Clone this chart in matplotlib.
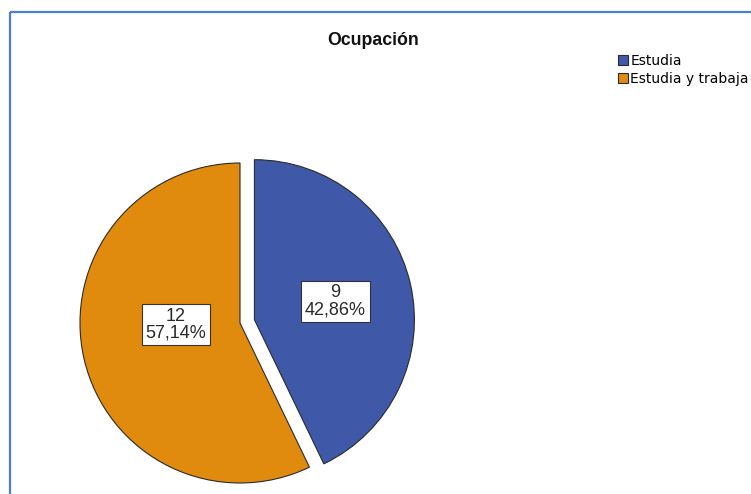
import matplotlib
matplotlib.use("Agg")
import matplotlib.pyplot as plt
from matplotlib.lines import Line2D
import numpy as np

# ---- data ----
title = "Ocupación"
categories = ["Estudia", "Estudia y trabaja"]
counts = [9, 12]
colors = ["#3F59A8", "#E08A0E"]

W, H = 751, 494
fig = plt.figure(figsize=(W / 100, H / 100), dpi=100)
ax = fig.add_axes([0, 0, 1, 1])

center = (240, 171)
radius = 160
explode = [14.8, 0]

wedges, _ = ax.pie(counts, colors=colors, startangle=90, counterclock=False,
                   center=center, radius=radius, explode=explode,
                   wedgeprops=dict(edgecolor="#2b2b2b", linewidth=0.8))

ax.set_xlim(0, W)
ax.set_ylim(0, H)
ax.set_aspect("equal")
ax.axis("off")

# frame lines (top & left)
bc = "#4A7FD6"
ax.add_line(Line2D([9.5, W], [H - 12.5, H - 12.5], color=bc, lw=1.6, solid_capstyle="butt"))
ax.add_line(Line2D([9.5, 9.5], [0, H - 12.5], color=bc, lw=1.6, solid_capstyle="butt"))

# labels
total = sum(counts)
label_dist = [0.52, 0.41]
label_nudge = [(0, 0), (0, 13)]
for w, c, d, nud in zip(wedges, counts, label_dist, label_nudge):
    mid = np.deg2rad((w.theta1 + w.theta2) / 2)
    cx, cy = w.center
    x = cx + d * w.r * np.cos(mid) + nud[0]
    y = cy + d * w.r * np.sin(mid) + nud[1]
    pct = f"{100 * c / total:.2f}".replace(".", ",")
    ax.text(x, y, f"{c}\n{pct}%", ha="center", va="center", fontsize=13,
            family="Liberation Sans", color="#2a2a2a", linespacing=1.0,
            bbox=dict(boxstyle="square,pad=0.2", facecolor="white",
                      edgecolor="#333333", linewidth=0.8))

ax.text(373, H - 41, title, ha="center", va="center", fontsize=12.8,
        fontweight="bold", family="Liberation Sans", color="#111111")

leg = ax.legend(wedges, categories, loc="upper left",
                bbox_to_anchor=(618, H - 54), bbox_transform=ax.transData,
                frameon=False, prop=dict(family="DejaVu Sans", size=10),
                handlelength=0.7, handleheight=0.75, handletextpad=0.2,
                labelspacing=0.3, borderpad=0, borderaxespad=0)

fig.savefig("out.png", dpi=100)
